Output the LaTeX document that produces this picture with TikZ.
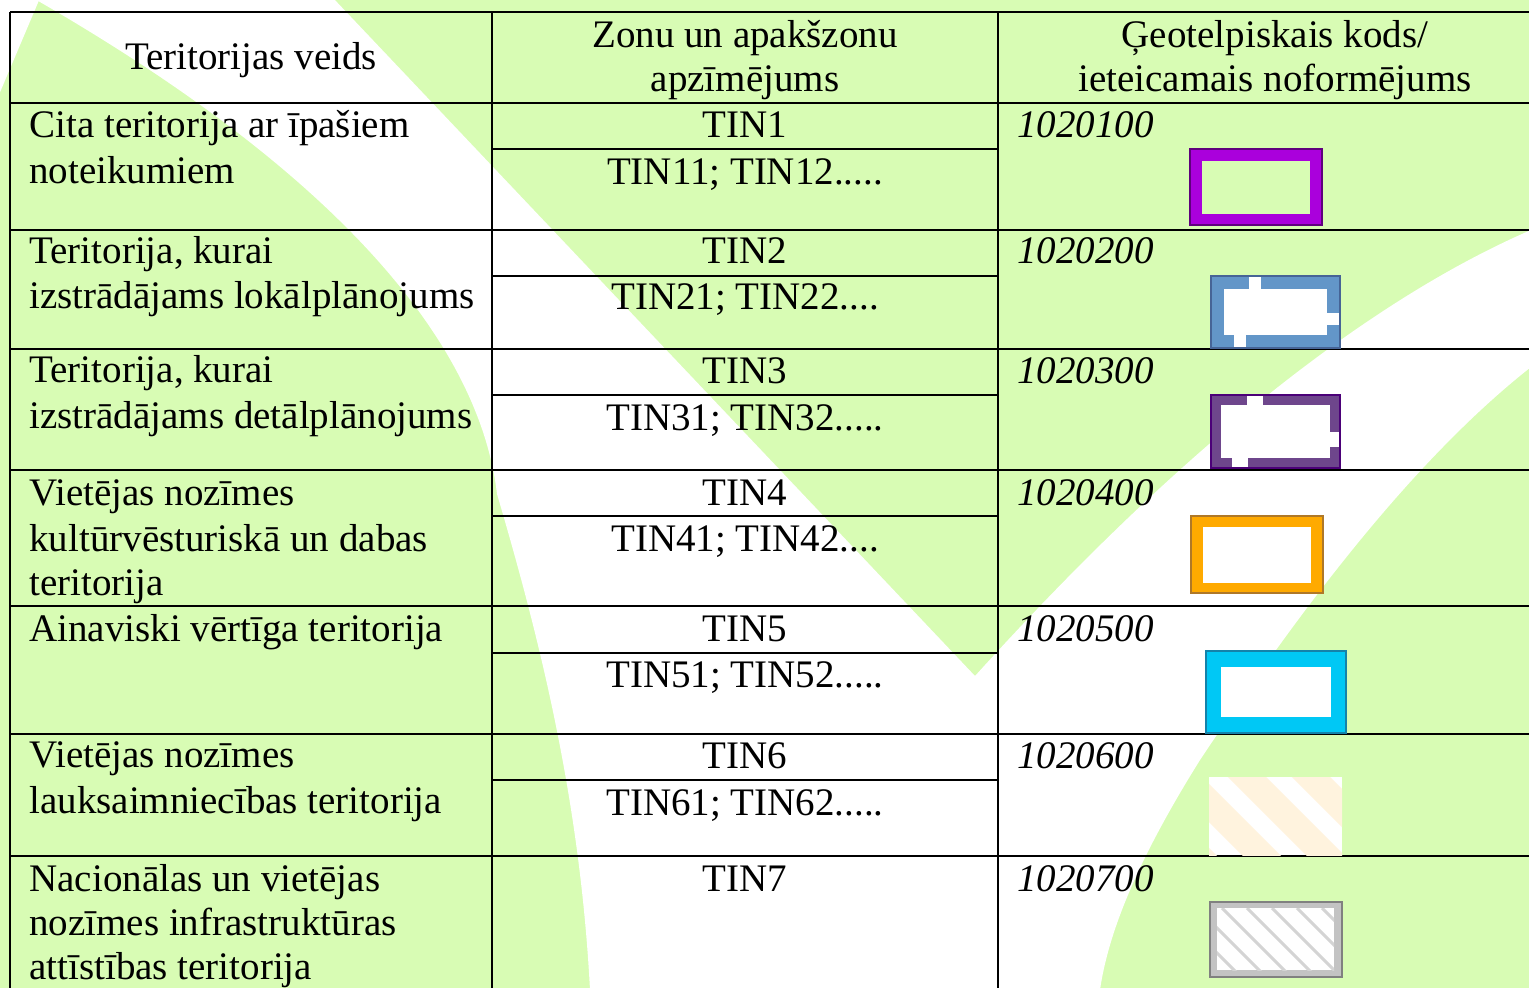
\documentclass[tikz,border=0pt]{standalone}
\usepackage{fontspec}
\setmainfont{Liberation Serif}
\definecolor{bggreen}{RGB}{216,252,180}
\definecolor{violetfill}{RGB}{170,0,220}
\definecolor{violetline}{RGB}{95,0,125}
\definecolor{bluefill}{RGB}{99,150,200}
\definecolor{blueline}{RGB}{70,100,150}
\definecolor{plumfill}{RGB}{110,70,140}
\definecolor{plumline}{RGB}{75,0,120}
\definecolor{orangefill}{RGB}{255,170,0}
\definecolor{orangeline}{RGB}{175,120,40}
\definecolor{cyanfill}{RGB}{0,200,245}
\definecolor{cyanline}{RGB}{20,130,170}
\definecolor{creamstripe}{RGB}{255,243,222}
\definecolor{greyline}{RGB}{128,128,128}
\definecolor{greyframe}{RGB}{195,195,195}
\definecolor{greyhatch}{RGB}{212,212,212}
\newcommand{\tabfont}{\fontsize{19.5}{22.5}\selectfont}
\tikzset{
  every node/.style={font=\tabfont, inner sep=0pt},
  lefttext/.style={anchor=base west},
  midtext/.style={anchor=base},
  codetext/.style={anchor=base west, font=\tabfont\itshape},
  rule/.style={line width=1.2pt},
  boxline/.style={line width=0.6pt},
}
\begin{document}
\begin{tikzpicture}[x=0.5pt,y=-0.5pt]
	\useasboundingbox (0,0) rectangle (1529,988);
	\begin{scope}
		\clip (0,0) rectangle (1529,988);
		% background and watermark
		\fill[bggreen] (0,0) rectangle (1529,988);
		\fill[white] (-2,-2) -- (40,-2) -- (-2,97) -- cycle;
		\fill[white] (33,-2) -- (333,-2) -- (975,676)
			.. controls (1080,560) and (1300,330) .. (1531,230) -- (1531,367)
			.. controls (1400,470) and (1280,640) .. (1200,760)
			.. controls (1150,840) and (1110,920) .. (1100,990) -- (590,990)
			.. controls (580,800) and (540,640) .. (497,494)
			.. controls (480,350) and (350,180) .. (33,-2) -- cycle;
		
		% table rules
		\foreach \y in {12,103,230,349,470,606,734,856}
			\draw[rule] (10,\y) -- (1529,\y);
		\foreach \y in {149,276,395,516,653,780}
			\draw[rule] (492,\y) -- (998,\y);
		\foreach \x in {10,492,998}
			\draw[rule] (\x,12) -- (\x,990);
	\end{scope}
	
	% header
	\node[midtext] (headtype) at (251,70) {Teritorijas veids};
	\node[midtext] (headzoneA) at (745,48) {Zonu un apakšzonu};
	\node[midtext] (headzoneB) at (745,92) {apzīmējums};
	\node[midtext] (headcodeA) at (1275,48) {Ģeotelpiskais kods/};
	\node[midtext] (headcodeB) at (1275,92) {ieteicamais noformējums};
	
	% territory types
	\node[lefttext] (typeAa) at (29,138) {Cita teritorija ar īpašiem};
	\node[lefttext] (typeAb) at (29,184) {noteikumiem};
	\node[lefttext] (typeBa) at (29,264) {Teritorija, kurai};
	\node[lefttext] (typeBb) at (29,309) {izstrādājams lokālplānojums};
	\node[lefttext] (typeCa) at (29,383) {Teritorija, kurai};
	\node[lefttext] (typeCb) at (29,429) {izstrādājams detālplānojums};
	\node[lefttext] (typeDa) at (29,505) {Vietējas nozīmes};
	\node[lefttext] (typeDb) at (29,551) {kultūrvēsturiskā un dabas};
	\node[lefttext] (typeDc) at (29,595) {teritorija};
	\node[lefttext] (typeE) at (29,641) {Ainaviski vērtīga teritorija};
	\node[lefttext] (typeFa) at (29,767) {Vietējas nozīmes};
	\node[lefttext] (typeFb) at (29,813) {lauksaimniecības teritorija};
	\node[lefttext] (typeGa) at (29,891) {Nacionālas un vietējas};
	\node[lefttext] (typeGb) at (29,935) {nozīmes infrastruktūras};
	\node[lefttext] (typeGc) at (29,979) {attīstības teritorija};
	
	% zone labels
	\node[midtext] (zoneA) at (745,138) {TIN1};
	\node[midtext] (subA) at (745,185) {TIN11; TIN12.....};
	\node[midtext] (zoneB) at (745,264) {TIN2};
	\node[midtext] (subB) at (745,310) {TIN21; TIN22....};
	\node[midtext] (zoneC) at (745,384) {TIN3};
	\node[midtext] (subC) at (745,430) {TIN31; TIN32.....};
	\node[midtext] (zoneD) at (745,505) {TIN4};
	\node[midtext] (subD) at (745,551) {TIN41; TIN42....};
	\node[midtext] (zoneE) at (745,641) {TIN5};
	\node[midtext] (subE) at (745,687) {TIN51; TIN52.....};
	\node[midtext] (zoneF) at (745,768) {TIN6};
	\node[midtext] (subF) at (745,815) {TIN61; TIN62.....};
	\node[midtext] (zoneG) at (745,891) {TIN7};
	
	% codes
	\node[codetext] (codeA) at (1017,138) {1020100};
	\node[codetext] (codeB) at (1017,264) {1020200};
	\node[codetext] (codeC) at (1017,384) {1020300};
	\node[codetext] (codeD) at (1017,505) {1020400};
	\node[codetext] (codeE) at (1017,641) {1020500};
	\node[codetext] (codeF) at (1017,768) {1020600};
	\node[codetext] (codeG) at (1017,891) {1020700};
	
	% legend symbols
	\fill[violetfill] (1190,149) rectangle (1322,225);
	\fill[bggreen] (1202,161) rectangle (1310,214);
	\draw[boxline, violetline] (1190,149) rectangle (1322,225);
	
	\fill[bluefill] (1211,276) rectangle (1340,348);
	\fill[white] (1224,289) rectangle (1327,335);
	\fill[white] (1249,276) rectangle (1261,289);
	\fill[white] (1327,313) rectangle (1340,325);
	\fill[white] (1234,335) rectangle (1246,348);
	\draw[boxline, blueline] (1211,276) rectangle (1340,348);
	
	\fill[plumfill] (1211,395) rectangle (1340,468);
	\fill[white] (1221,405) rectangle (1330,458);
	\fill[white] (1247,395) rectangle (1263,405);
	\fill[white] (1330,432) rectangle (1340,447);
	\fill[white] (1232,458) rectangle (1248,468);
	\draw[boxline, plumline] (1211,395) rectangle (1340,468);
	
	\fill[orangefill] (1191,516) rectangle (1323,593);
	\fill[white] (1203,527) rectangle (1311,583);
	\draw[boxline, orangeline] (1191,516) rectangle (1323,593);
	
	\fill[cyanfill] (1206,651) rectangle (1346,733);
	\fill[white] (1221,667) rectangle (1331,717);
	\draw[boxline, cyanline] (1206,651) rectangle (1346,733);
	
	\begin{scope}
		\clip (1209,777) rectangle (1342,855);
		\fill[white] (1209,777) rectangle (1342,855);
		\foreach \c in {1099,1163,1227,1291}
			\draw[creamstripe, line width=13.5pt] (\c,757) -- ++(120,120);
	\end{scope}
	
	\fill[greyframe] (1210,902) rectangle (1342,977);
	\fill[white] (1217,908) rectangle (1334,970);
	\begin{scope}
		\clip (1217,908) rectangle (1334,970);
		\foreach \c in {1147,1172,...,1322}
			\draw[greyhatch, line width=1.5pt] (\c,908) -- ++(70,70);
	\end{scope}
	\draw[line width=1.2pt, greyline] (1210,902) rectangle (1342,977);
\end{tikzpicture}
\end{document}
